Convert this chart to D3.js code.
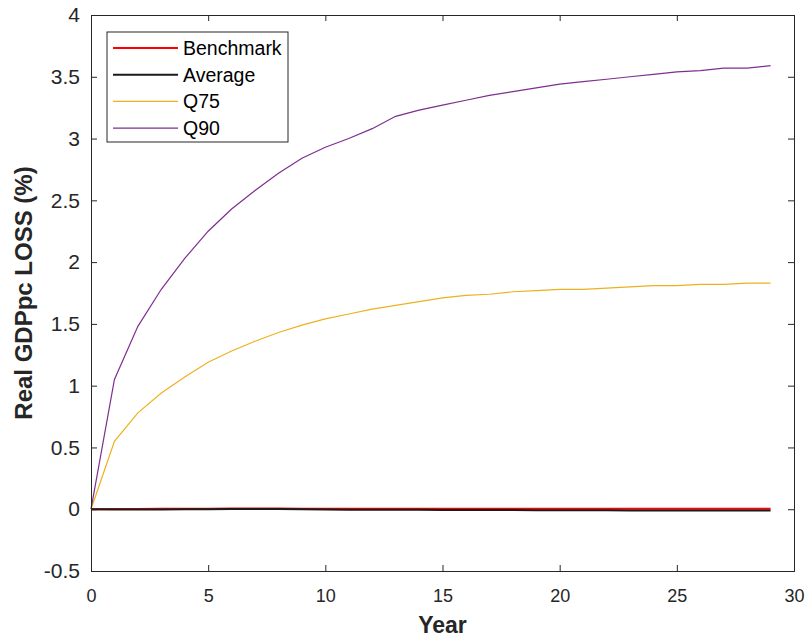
<!DOCTYPE html>
<html>
<head>
<meta charset="utf-8">
<script src="https://cdn.jsdelivr.net/npm/d3@7"></script>
<style>
  body { margin: 0; background: #fff; }
  svg { font-family: "Liberation Sans", Arial, sans-serif; }
</style>
</head>
<body>
<svg id="chart" width="811" height="642"></svg>
<script>
const years = d3.range(0, 30);
const benchmark = [0, 0.002, 0.002, 0.003, 0.003, 0.004, 0.005, 0.005, 0.005, 0.004, 0.004, 0.004, 0.004, 0.004, 0.004, 0.004, 0.003, 0.003, 0.003, 0.003, 0.003, 0.003, 0.003, 0.003, 0.003, 0.003, 0.003, 0.003, 0.003, 0.003];
const average = [0, -0.002, -0.003, -0.002, -0.001, 0, 0.002, 0.002, 0.001, -0.001, -0.003, -0.004, -0.005, -0.005, -0.005, -0.006, -0.006, -0.007, -0.007, -0.008, -0.008, -0.009, -0.009, -0.01, -0.01, -0.01, -0.01, -0.01, -0.01, -0.01];
const q75 = [0, 0.55, 0.78, 0.94, 1.07, 1.19, 1.28, 1.36, 1.43, 1.49, 1.54, 1.58, 1.62, 1.65, 1.68, 1.71, 1.73, 1.74, 1.76, 1.77, 1.78, 1.78, 1.79, 1.80, 1.81, 1.81, 1.82, 1.82, 1.83, 1.83];
const q90 = [0, 1.05, 1.48, 1.78, 2.03, 2.25, 2.43, 2.58, 2.72, 2.84, 2.93, 3.00, 3.08, 3.18, 3.23, 3.27, 3.31, 3.35, 3.38, 3.41, 3.44, 3.46, 3.48, 3.50, 3.52, 3.54, 3.55, 3.57, 3.57, 3.59];
const xTicks = [0, 5, 10, 15, 20, 25, 30];
const yTicks = [-0.5, 0, 0.5, 1, 1.5, 2, 2.5, 3, 3.5, 4];

const series = [
  { name: "Benchmark", values: benchmark, color: "#ff0000", width: 2 },
  { name: "Average", values: average, color: "#1a1a1a", width: 2 },
  { name: "Q75", values: q75, color: "#edb120", width: 1.2 },
  { name: "Q90", values: q90, color: "#7e2f8e", width: 1.2 }
];

const svg = d3.select("#chart");
const margin = { left: 91, right: 17, top: 15, bottom: 71 };
const w = 811 - margin.left - margin.right;
const h = 642 - margin.top - margin.bottom;

const x = d3.scaleLinear().domain([0, 30]).range([0, w]);
const y = d3.scaleLinear().domain([-0.5, 4]).range([h, 0]);

const g = svg.append("g").attr("transform", `translate(${margin.left},${margin.top})`);

const line = d3.line().x((d, i) => x(years[i])).y(d => y(d));

series.forEach(s => {
  g.append("path")
    .datum(s.values)
    .attr("fill", "none")
    .attr("stroke", s.color)
    .attr("stroke-width", s.width)
    .attr("d", line);
});

// axes box, ticks point inward (matlab style)
const axisColor = "#262626";
const fmt = d => String(d); // plain hyphen for negatives, like the original
const gx = g.append("g").attr("transform", `translate(0,${h})`)
  .call(d3.axisBottom(x).tickValues(xTicks).tickSize(-6).tickPadding(18).tickFormat(fmt));
const gy = g.append("g")
  .call(d3.axisLeft(y).tickValues(yTicks).tickSize(-6).tickPadding(11).tickFormat(fmt));
g.append("g").call(d3.axisTop(x).tickValues(xTicks).tickSize(-6).tickFormat(""));
g.append("g").attr("transform", `translate(${w},0)`)
  .call(d3.axisRight(y).tickValues(yTicks).tickSize(-6).tickFormat(""));

g.selectAll(".domain").attr("stroke", axisColor).attr("stroke-width", 1);
g.selectAll(".tick line").attr("stroke", axisColor);
g.selectAll(".tick text").attr("fill", axisColor).attr("font-family", "Liberation Sans, Arial, sans-serif");
gx.selectAll(".tick text").attr("font-size", 18);
gy.selectAll(".tick text").attr("font-size", 21);

// axis labels
svg.append("text")
  .attr("x", margin.left + w / 2)
  .attr("y", 633)
  .attr("text-anchor", "middle")
  .attr("font-size", 23)
  .attr("font-weight", "bold")
  .attr("fill", axisColor)
  .text("Year");

svg.append("text")
  .attr("transform", `translate(32,${margin.top + y(1.75)}) rotate(-90)`)
  .attr("text-anchor", "middle")
  .attr("font-size", 24)
  .attr("font-weight", "bold")
  .attr("fill", axisColor)
  .text("Real GDPpc LOSS (%)");

// legend
const legend = svg.append("g").attr("transform", "translate(107,32)");
legend.append("rect")
  .attr("width", 181).attr("height", 110)
  .attr("fill", "#fff").attr("stroke", axisColor).attr("stroke-width", 1);
const items = legend.selectAll("g.item").data(series).join("g")
  .attr("class", "item")
  .attr("transform", (d, i) => `translate(0,${16 + i * 26.7})`);
items.append("line")
  .attr("x1", 6).attr("x2", 71).attr("y1", 0).attr("y2", 0)
  .attr("stroke", d => d.color).attr("stroke-width", d => d.width);
items.append("text")
  .attr("x", 76).attr("y", 0).attr("dy", "0.35em")
  .attr("font-size", 19.5).attr("fill", "#000")
  .text(d => d.name);
</script>
</body>
</html>
